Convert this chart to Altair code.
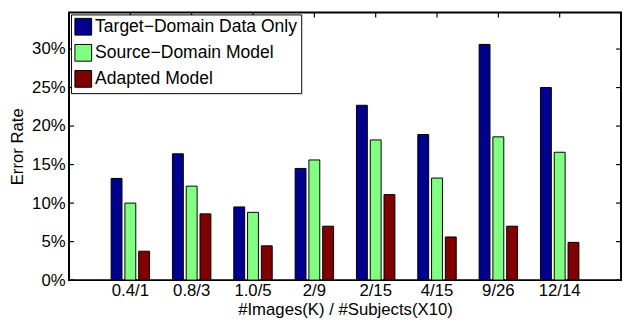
import altair as alt
import pandas as pd

categories = ["0.4/1", "0.8/3", "1.0/5", "2/9", "2/15", "4/15", "9/26", "12/14"]
series = ["Target−Domain Data Only", "Source−Domain Model", "Adapted Model"]
target_only = [13.2, 16.4, 9.5, 14.5, 22.7, 18.9, 30.6, 25.0]
source_model = [10.0, 12.2, 8.8, 15.6, 18.2, 13.25, 18.6, 16.6]
adapted_model = [3.75, 8.6, 4.45, 7.0, 11.1, 5.6, 7.0, 4.9]
colors = ["#00008F", "#80FF80", "#800000"]
y_ticks = [0, 5, 10, 15, 20, 25, 30]

rows = []
for s, vals in zip(series, [target_only, source_model, adapted_model]):
    for c, v in zip(categories, vals):
        rows.append({"cat": c, "series": s, "val": v})
df = pd.DataFrame(rows)
df_cats = pd.DataFrame({"cat": categories})
df_ticks = pd.DataFrame({"v": y_ticks})

W, H = 561, 272
FONT = "Liberation Sans"

xscale = alt.Scale(domain=categories, paddingInner=0.326, paddingOuter=0.663)
yscale = alt.Scale(domain=[0, 34.75], nice=False, zero=True)

bars = alt.Chart(df).mark_bar(stroke="black", strokeWidth=1).encode(
    x=alt.X("cat:N", scale=xscale, sort=categories,
            axis=alt.Axis(title="#Images(K) / #Subjects(X10)", labelAngle=0,
                          ticks=False, tickSize=0, domain=False, labelPadding=3,
                          titlePadding=3)),
    xOffset=alt.XOffset("series:N", sort=series,
                        scale=alt.Scale(domain=series, paddingInner=0.21, paddingOuter=0.105)),
    y=alt.Y("val:Q", scale=yscale,
            axis=alt.Axis(title="Error Rate", values=y_ticks, labelExpr="datum.value + '%'",
                          ticks=False, tickSize=0, domain=False, grid=False,
                          labelPadding=4, titlePadding=5)),
    color=alt.Color("series:N", sort=series,
                    scale=alt.Scale(domain=series, range=colors),
                    legend=alt.Legend(title=None, orient="none", legendX=2, legendY=2,
                                      symbolType="square", symbolSize=289,
                                      symbolStrokeColor="black", symbolStrokeWidth=1,
                                      symbolOpacity=1, labelLimit=400,
                                      labelFontSize=17.8, labelFont=FONT, labelOffset=3,
                                      rowPadding=4.5, padding=3.5,
                                      strokeColor="black", fillColor="white")),
)

left_ticks = alt.Chart(df_ticks).mark_rule(color="black", strokeWidth=1.2).encode(
    y=alt.Y("v:Q", scale=yscale), x=alt.value(0), x2=alt.value(5))
right_ticks = alt.Chart(df_ticks).mark_rule(color="black", strokeWidth=1.2).encode(
    y=alt.Y("v:Q", scale=yscale), x=alt.value(W - 5), x2=alt.value(W))
top_ticks = alt.Chart(df_cats).mark_rule(color="black", strokeWidth=1.2).encode(
    x=alt.X("cat:N", scale=xscale, sort=categories), y=alt.value(0), y2=alt.value(5))

chart = alt.layer(bars, left_ticks, right_ticks, top_ticks).properties(
    width=W, height=H,
    padding={"left": 0, "top": 1, "right": 0, "bottom": 0},
    background="white",
).configure_view(
    stroke="black", strokeWidth=2
).configure_axis(
    labelFont=FONT, titleFont=FONT, labelFontSize=17, titleFontSize=17,
    titleFontWeight="normal", labelColor="black", titleColor="black"
)

chart.save("out.html", embed_options={"renderer": "svg", "actions": False})
